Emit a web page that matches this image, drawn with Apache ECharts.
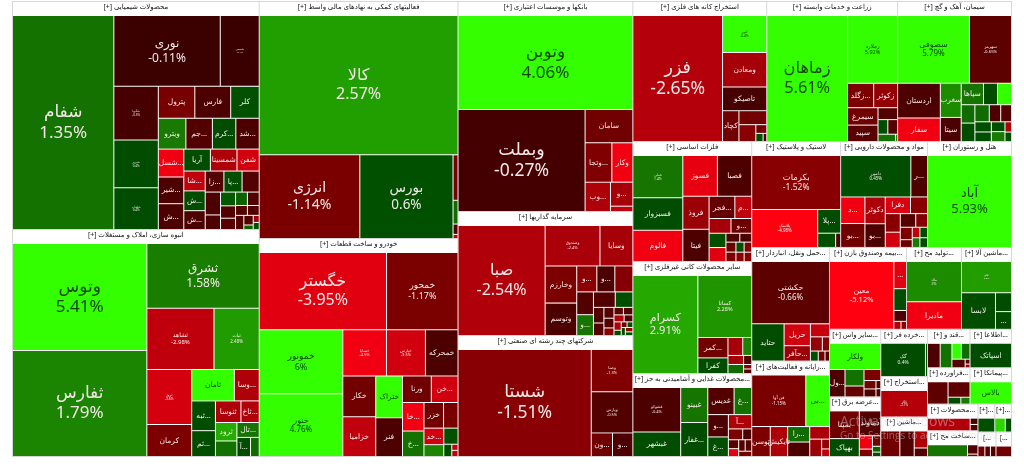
<!DOCTYPE html>
<html dir="ltr"><head><meta charset="utf-8">
<style>html,body{margin:0;padding:0;background:#fff;overflow:hidden}#c{width:1024px;height:470px}</style>
<script src="https://cdn.jsdelivr.net/npm/echarts@6/dist/echarts.min.js"></script></head>
<body><div id="c"></div><script>
const sectorTitles=['[+] محصولات شیمیایی','[+] انبوه سازی، املاک و مستغلات','[+] فعالیتهای کمکی به نهادهای مالی واسط','[+] خودرو و ساخت قطعات','[+] بانکها و موسسات اعتباری','[+] سرمایه گذاریها','[+] شرکتهای چند رشته ای صنعتی','[+] استخراج کانه های فلزی','[+] زراعت و خدمات وابسته','[+] سیمان، آهک و گچ','[+] فلزات اساسی','[+] سایر محصولات کانی غیرفلزی','[+] محصولات غذایی و آشامیدنی به جز...','[+] لاستیک و پلاستیک','[+] مواد و محصولات دارویی','[+] هتل و رستوران','[+] حمل ونقل، انباردار...','[+] رایانه و فعالیت‌های...','[+] بیمه وصندوق بازن...','[+] تولید مح...','[+] ماشین آلا...','[+] سایر واس...','[+] عرضه برق...','[+] خرده فر...','[+] استخراج...','[+] ماشین...','[+] قند و...','[+] اطلاعا...','[+] فراورده...','[+] پیمانکا...','[+] ساخت مح...','[+]...','[...','[+] محصولات...','[...','[+]...'];
const sectorWeights=[56316,56069,47163,43382,36750,21700,21175,18760,18340,15960,14280,13328,9877,9434,9222,8904,8850,7426,6314,4510,4100,3468,3060,2208,1890,1850,1634,1596,1548,1512,1300,468,442,1344,380,470];

const chemNames=['شفام','نوری','شیمیس','شگویا','شبریز','شلعاب','پترول','فارس','کلر','ویترو','جم...','شد...','کرم...','شسل...','شیر...','ش...','شمسینا','آریا','شفن','ش...','شا...','ش...','زا...','پا...','','','','','','','','','','','','','','',''];
const chemAreas=[20430,7100,2600,2250,2000,1750,1100,1080,860,800,770,680,680,670,640,620,550,550,460,400,400,380,370,360,340,330,210,195,175,160,150,150,110,110,110,85,40,40,40];
const chemChanges=[1.35,-0.11,-0.1,-0.3,0.4,0.4,-1.1,-0.4,0.6,1.5,-0.5,-0.4,0.4,-4.5,-0.4,-0.4,-2.5,0.4,-3.5,0.4,-3,-0.4,-0.5,0.5,-0.5,-0.4,-0.4,0.8,-0.5,-0.6,-0.5,1,-0.5,-0.5,-0.5,-0.5,0.5,-2,1];

const buildNames=['وتوس','ثفارس','ثشرق','ثشاهد','ثبات','ثروژ','کرمان','ثامان','وسا...','ثبه...','ثم...','ثنوسا','ثرود','ثاخ...','تال...','','آ...',''];
const buildAreas=[13800,13700,7000,3950,2660,2370,1380,1290,750,680,590,530,380,380,320,320,250,160];
const buildChanges=[5.41,1.79,1.58,-2.98,2.48,-3.6,-1.2,4.2,-2.5,0.4,0.4,-2.5,3,-2.6,1.4,1.3,0.4,1.2];

const finNames=['کالا','انرژی','بورس','','','',''];
const finAreas=[27000,8200,7600,220,115,50,20];
const finChanges=[2.57,-1.14,0.6,-1,1.2,-0.4,-3];

const autoNames=['خگستر','خمحور','خمونور','خنور','خساپا','خپارس','خمحرکه','خکار','خزامیا','ختراک','فنر','ورنا','خن...','خا...','خ...','خزر','','خد...','','','','',''];
const autoAreas=[9000,5050,4900,4800,1850,1650,1380,1230,1200,1025,950,700,650,560,500,460,340,300,215,210,90,35,35];
const autoChanges=[-3.95,-1.17,6,4.76,-4.5,-3.5,-0.4,-1,-3,4.4,-0.4,-1,-3.5,-4.5,1.3,-1,-1.1,-3.5,1.8,0.6,0.4,-3,-3];

const bankNames=['وتوبن','وبملت','سامان','وتجا...','وکار','وب...','و...',''];
const bankAreas=[15900,12550,1540,1020,800,720,520,115];
const bankChanges=[4.06,-0.27,-1,-1.3,-4.5,-2.5,-2.3,-3];

const investNames=['صبا','وصندوق','وسایا','وخارزم','وتوسم','و...','','و...','','و...','','','','','','','','','','','','','','','','','',''];
const investAreas=[8800,2035,1220,1080,940,480,430,430,350,320,310,250,150,120,100,90,70,65,65,65,56,56,35,30,30,30,30,25];
const investChanges=[-2.54,-2.4,-2.3,-1.2,-0.4,-1.6,-1.4,-0.4,-0.5,1.4,-0.5,0.5,-0.5,-0.5,-0.5,-0.5,-1.5,-2.5,-0.5,-0.6,-2.5,-0.5,0.5,-2,0.5,0.5,-1,0.5];

const multiNames=['شستا','وصنا','وپارس','ون...','و...'];
const multiAreas=[13650,1680,1640,480,460];
const multiChanges=[-1.51,-1.3,-0.5,-1,-0.4];

const miningNames=['فزر','کنور','ومعادن','تاصیکو','کچاد','','','','',''];
const miningAreas=[10750,1550,1450,1000,480,370,270,90,56,28];
const miningChanges=[-2.65,4.4,-2.3,-0.3,-1,-1,-1.5,-1,0.5,-0.5];

const agriNames=['زماهان','زملارد','زگلد...','زکوثر','سیمرغ','سپید','','','','',''];
const agriAreas=[9600,3200,600,550,500,470,220,135,135,120,14];
const agriChanges=[5.61,5.92,-1.2,-1.8,-1,-0.6,-0.5,-0.5,0.4,1.3,1.3];

const cementNames=['سصوفی','سهرمز','اردستان','سفار','سغرب','سیتا','سپاها','','','','','','','','','','','','',''];
const cementAreas=[4350,2550,1330,900,640,450,430,270,270,225,225,220,175,165,150,140,120,120,60,55];
const cementChanges=[5.79,-0.65,-0.4,-4.5,2,-0.4,1.4,4.4,0.4,0.4,1.2,1.2,-0.4,-0.5,0.5,0.5,1.5,0.5,-2.5,0.5];

const metalNames=['فملی','فسبزوار','فالوم','فسوز','فصبا','فروذ','فیتا','فجر...','م...','','و...','','','','','','','','','',''];
const metalAreas=[1800,1380,1330,1200,1190,740,720,490,320,275,260,205,200,105,90,85,80,70,65,65,60];
const metalChanges=[1.4,0.4,-4.5,-4.2,-0.4,-2,-0.4,-0.8,-3,-2.3,-0.9,0.5,-4,-0.4,-0.4,-0.9,-1.2,0.5,-1.5,-1.3,-1.5];

const mineralNames=['کسرام','کسانا','کمر...','کفرا','','','','','','',''];
const mineralAreas=[6100,3190,590,450,255,155,135,135,70,35,35];
const mineralChanges=[2.91,2.28,-1,0.4,-2.3,1.8,1.2,-2.2,-0.4,-0.6,-1.5];

const foodNames=['غشوکو','غبشهر','غبینو','غفار...','غدیس','غ...','و...','غ...','آ...','','','','','','',''];
const foodAreas=[1850,1020,825,800,620,415,400,350,290,135,85,80,70,65,65,60];
const foodChanges=[-0.4,0.4,1.4,0.4,-0.5,1.3,-0.4,0.5,-2.5,-1.2,-0.4,-0.6,-4,-0.6,-0.5,-1];

const plasticNames=['بکرمات','پلاسک','پلا...','',''];
const plasticAreas=[4400,2300,500,235,65];
const plasticChanges=[-1.52,-4.98,0.4,0.5,-0.4];

const pharmaNames=['دامین','ر...','د...','بو...','دکوثر','بو...','دفرا','','','','','','','','','','',''];
const pharmaAreas=[2350,560,520,470,440,390,340,230,225,185,170,130,120,75,65,65,60,60];
const pharmaChanges=[0.45,-0.4,-4.5,-1,-2.5,-0.4,-3.8,-1.5,-1.5,-3.5,-0.5,-1.4,-1.2,-0.9,0.4,-3,0.4,1.5];

const hotelNames=['آباد'];
const hotelAreas=[7400];
const hotelChanges=[5.93];

const transportNames=['حکشتی','حتاید','حریل','حآفر...','','','','','',''];
const transportAreas=[4300,1070,510,360,220,150,90,70,60,40];
const transportChanges=[-0.66,0.4,-3.5,-2,-3.2,-1.8,-1.4,0.5,-1,-0.5];

const computerNames=['فن آوا','بی...','توسن','تایکیش','را...','','','','',''];
const computerAreas=[2350,1030,470,440,290,270,210,175,65,50];
const computerChanges=[-1.15,4.4,-1.2,-2.5,1.2,-0.4,-2.4,-2,-1.8,-3];

const insuranceNames=['معین','...','','','',''];
const insuranceAreas=[3800,300,240,120,50,38];
const insuranceChanges=[-5.12,-4,0.4,-0.4,-2.5,-1.5];

const makeNames=['ملاد','مادیرا'];
const makeAreas=[1900,1300];
const makeChanges=[2,-4.5];

const machineNames=['تکنو','لابسا','','...'];
const machineAreas=[1320,1050,255,240];
const machineChanges=[2.5,0.4,0.4,0.4];

const serviceNames=['ولکار','ول...','','','','','','',''];
const serviceAreas=[1200,380,280,185,165,90,85,35,35];
const serviceChanges=[4.4,-0.4,1.3,-0.8,-1.2,-1,-0.4,-0.5,-0.5];

const powerNames=['بمپنا','دماوند','بهپاک','','','','',''];
const powerAreas=[680,440,440,145,80,72,40,30];
const powerChanges=[-1,-0.5,0.4,-4.5,-1.2,-1,1,0.5];

const retailNames=['گک',''];
const retailAreas=[1320,60];
const retailChanges=[0.4,0.4];

const extractNames=['کگاز'];
const extractAreas=[1050];
const extractChanges=[-2.7];

const machine2Names=['','','',''];
const machine2Areas=[345,260,160,80];
const machine2Changes=[-1,-0.5,-2.5,-0.5];

const sugarNames=['','','','','','',''];
const sugarAreas=[260,240,125,115,95,20,15];
const sugarChanges=[-0.4,1.3,4.4,1.2,-0.5,-0.5,-2];

const infoNames=['اسپاتک'];
const infoAreas=[930];
const infoChanges=[0.4];

const processNames=['','','',''];
const processAreas=[400,295,77,55];
const processChanges=[-0.7,-0.7,0.4,1.5];

const contractNames=['بالاس'];
const contractAreas=[740];
const contractChanges=[4.4];

const estateNames=['','',''];
const estateAreas=[410,85,22];
const estateChanges=[1.4,-0.5,-1];

const small1Names=['',''];
const small1Areas=[85,50];
const small1Changes=[3.5,0.5];

const small2Names=['','',''];
const small2Areas=[50,40,40];
const small2Changes=[-1,-0.5,-0.5];

const goodsNames=['','',''];
const goodsAreas=[440,40,40];
const goodsChanges=[-2.6,-0.5,-0.3];

const small3Names=[''];
const small3Areas=[130];
const small3Changes=[-1];

const small4Names=[''];
const small4Areas=[20];
const small4Changes=[0.5];

const sectorLeaves=[
[chemNames,chemAreas,chemChanges],[buildNames,buildAreas,buildChanges],[finNames,finAreas,finChanges],[autoNames,autoAreas,autoChanges],[bankNames,bankAreas,bankChanges],[investNames,investAreas,investChanges],[multiNames,multiAreas,multiChanges],[miningNames,miningAreas,miningChanges],[agriNames,agriAreas,agriChanges],[cementNames,cementAreas,cementChanges],[metalNames,metalAreas,metalChanges],[mineralNames,mineralAreas,mineralChanges],[foodNames,foodAreas,foodChanges],[plasticNames,plasticAreas,plasticChanges],[pharmaNames,pharmaAreas,pharmaChanges],[hotelNames,hotelAreas,hotelChanges],[transportNames,transportAreas,transportChanges],[computerNames,computerAreas,computerChanges],[insuranceNames,insuranceAreas,insuranceChanges],[makeNames,makeAreas,makeChanges],[machineNames,machineAreas,machineChanges],[serviceNames,serviceAreas,serviceChanges],[powerNames,powerAreas,powerChanges],[retailNames,retailAreas,retailChanges],[extractNames,extractAreas,extractChanges],[machine2Names,machine2Areas,machine2Changes],[sugarNames,sugarAreas,sugarChanges],[infoNames,infoAreas,infoChanges],[processNames,processAreas,processChanges],[contractNames,contractAreas,contractChanges],[estateNames,estateAreas,estateChanges],[small1Names,small1Areas,small1Changes],[small2Names,small2Areas,small2Changes],[goodsNames,goodsAreas,goodsChanges],[small3Names,small3Areas,small3Changes],[small4Names,small4Areas,small4Changes]];

// Style tables, separate from the data: font size of labels that also show the change.
const pctLabelSizes={'شفام':17,'نوری':12,'شیمیس':2.5,'شگویا':3,'شبریز':3,'شلعاب':3,'وتوس':17,'ثفارس':17,'ثشرق':12,'ثشاهد':6,'ثبات':4.5,'ثروژ':3.5,'کالا':16,'انرژی':14,'بورس':13.5,'خگستر':16,'خمحور':9,'خمونور':9,'خنور':8,'خساپا':4,'خپارس':4,'وتوبن':17,'وبملت':17.5,'صبا':16,'وصندوق':4,'شستا':17.5,'وصنا':4,'وپارس':4,'فزر':17.5,'کنور':3.5,'زماهان':16.3,'زملارد':5.5,'سصوفی':8,'سهرمز':4.3,'فملی':3.3,'کسرام':11,'کسانا':5.6,'غشوکو':4,'بکرمات':8.5,'پلاسک':4.4,'دامین':4.5,'آباد':13,'حکشتی':8,'فن آوا':4.5,'معین':7.5,'ملاد':3.5,'تکنو':2.5,'کگاز':3,'گک':5};
const smallLabelSize=7.5;
const fontFamily='"Noto Sans","DejaVu Sans",sans-serif';

const stops=[[-5,[255,0,16]],[-3.95,[224,0,16]],[-2.6,[178,0,10]],[-1.14,[122,0,0]],[-0.1,[58,0,0]],[0.1,[0,72,0]],[0.6,[0,80,0]],[1.5,[24,122,0]],[2.6,[34,160,0]],[3.0,[38,172,0]],[4,[51,255,0]],[7,[51,255,0]]];
function shade(v){
  if(v<=stops[0][0])return 'rgb('+stops[0][1]+')';
  for(let i=1;i<stops.length;i++){ if(v<=stops[i][0]){const a=stops[i-1],b=stops[i],t=(v-a[0])/(b[0]-a[0]);
    return 'rgb('+a[1].map((c,k)=>Math.round(c+(b[1][k]-c)*t))+')';}}
  return 'rgb(51,255,0)';
}
const sectorData=sectorTitles.map((title,s)=>{
  const [names,areas,changes]=sectorLeaves[s];
  return {name:title,value:sectorWeights[s],children:names.map((nm,i)=>{
    const fs=pctLabelSizes[nm];
    const ink=changes[i]>=3.5?'#0a4a00':'#f3e9e9';
    return {name:nm||(' '),value:areas[i],itemStyle:{color:shade(changes[i])},
      label:{show:!!nm,color:ink,fontSize:fs||smallLabelSize,lineHeight:(fs||smallLabelSize)*1.2,
        formatter:fs?nm+'\n'+changes[i]+'%':nm}};
  })};
});
const chart=echarts.init(document.getElementById('c'),null,{renderer:'canvas'});
chart.setOption({animation:false,backgroundColor:'#fff',
 series:[{type:'treemap',left:12,top:1,width:1000,height:456,roam:false,nodeClick:false,silent:true,
  breadcrumb:{show:false},squareRatio:1,visibleMin:0,sort:'desc',
  label:{show:true,position:'inside',padding:0,overflow:'none',fontFamily:fontFamily,align:'center',verticalAlign:'middle'},
  levels:[
   {itemStyle:{borderWidth:1,gapWidth:1,borderColor:'#d6d6d6',color:'#fff'}},
   {itemStyle:{color:'#fff',borderColor:'#fff',borderWidth:0,gapWidth:1},
    upperLabel:{show:true,height:14,color:'#111',fontSize:7,fontFamily:fontFamily,overflow:'none',padding:0,align:'center',verticalAlign:'middle',position:'insideTop'}},
   {itemStyle:{borderWidth:0,gapWidth:0}}
  ],
  data:sectorData}],
 graphic:[
  {type:'text',z:100,left:840,top:415,style:{text:'Activate Windows',fill:'rgba(215,215,215,0.45)',font:'14px "Open Sans",sans-serif'}},
  {type:'text',z:100,left:840,top:431,style:{text:'Go to Settings to activate Windows.',fill:'rgba(215,215,215,0.45)',font:'10px "Open Sans",sans-serif'}}
 ]});
</script></body></html>
